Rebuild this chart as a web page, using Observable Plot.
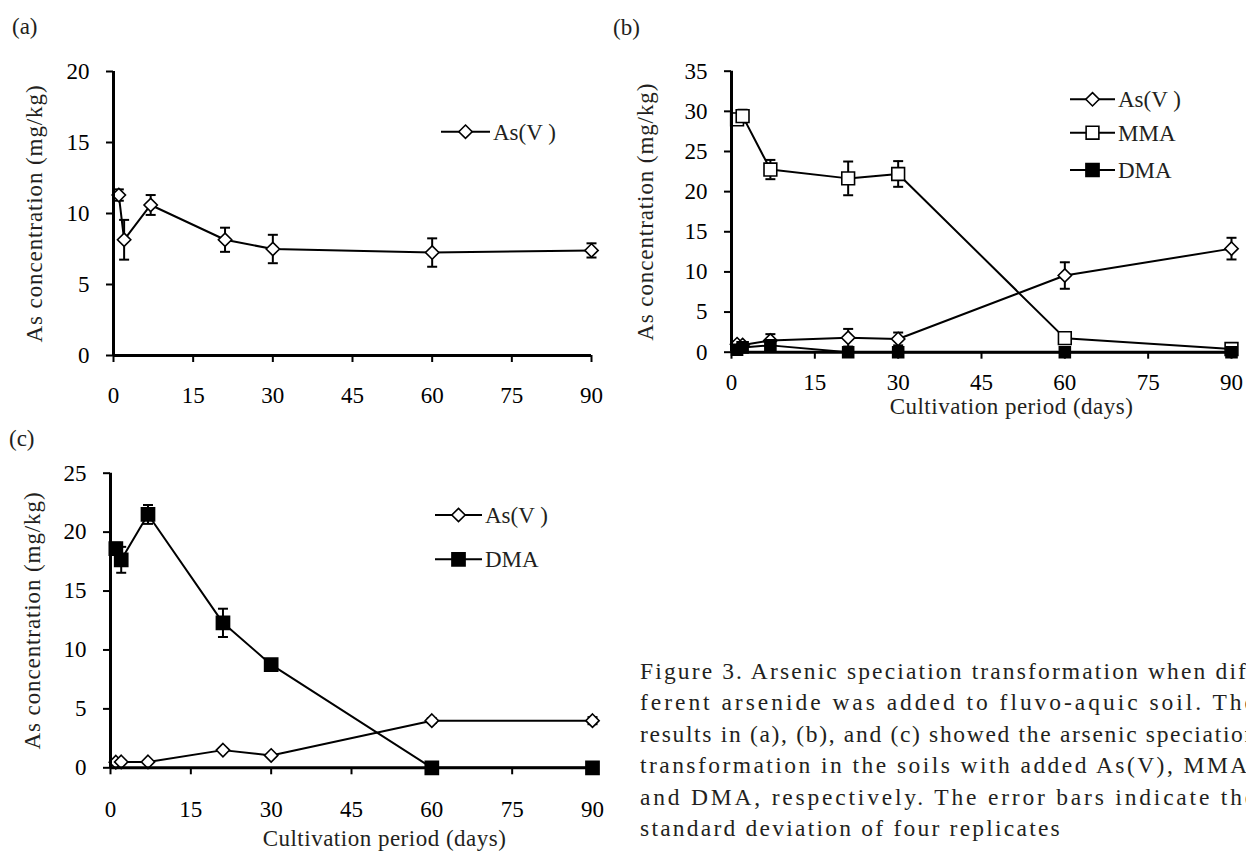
<!DOCTYPE html>
<html><head><meta charset="utf-8">
<script src="https://cdn.jsdelivr.net/npm/d3@7"></script>
<script src="https://cdn.jsdelivr.net/npm/@observablehq/plot@0.6"></script>
<style>
html,body{margin:0;padding:0;background:#fff;overflow:hidden;}
body{width:1246px;height:857px;position:relative;font-family:"Liberation Serif",serif;color:#111;}
.panel{position:absolute;}
.plabel{position:absolute;font-size:23px;line-height:1;color:#231f20;}
.legend{position:absolute;left:0;top:0;}
#caption{position:absolute;left:640px;top:656px;font-size:23.5px;line-height:31.4px;color:#231f20;}
#caption div{white-space:nowrap;}
</style></head><body>
<div class="plabel" style="left:12px;top:15px">(a)</div>
<div class="plabel" style="left:613px;top:16px">(b)</div>
<div class="plabel" style="left:9px;top:427px">(c)</div>
<div id="pa" class="panel" style="left:0;top:40px"></div>
<div id="pb" class="panel" style="left:600px;top:40px"></div>
<div id="pc" class="panel" style="left:0;top:455px"></div>
<svg class="legend" width="1246" height="857" id="leg"></svg>
<div id="caption"></div>
<script>
// ---- data ----
const days = [1, 2, 7, 21, 30, 60, 90];
const xTicks = [0, 15, 30, 45, 60, 75, 90];
// panel (a): As(V) added
const aAsV    = [11.3, 8.15, 10.6, 8.15, 7.5, 7.25, 7.4];
const aAsVErr = [0.4, 1.4, 0.7, 0.85, 1.0, 1.0, 0.5];
// panel (b): MMA added
const bAsV    = [1.0, 0.9, 1.45, 1.8, 1.65, 9.55, 12.9];
const bAsVErr = [0.3, 0.3, 0.8, 1.1, 0.8, 1.65, 1.35];
const bMMA    = [29.0, 29.4, 22.75, 21.65, 22.2, 1.75, 0.4];
const bMMAErr = [0.7, 0.8, 1.2, 2.1, 1.6, 0.3, 0.2];
const bDMA    = [0.3, 0.6, 0.85, 0, 0, 0, 0];
const bDMAErr = [0.1, 0.2, 0.3, 0, 0, 0, 0];
// panel (c): DMA added
const cAsV    = [0.48, 0.5, 0.5, 1.5, 1.05, 4.0, 4.0];
const cAsVErr = [0.1, 0.1, 0.1, 0.15, 0.1, 0.2, 0.3];
const cDMA    = [18.6, 17.65, 21.5, 12.3, 8.75, 0, 0];
const cDMAErr = [0.5, 1.1, 0.8, 1.2, 0.4, 0.1, 0.1];
const yTitle = "As concentration (mg/kg)";
const xTitle = "Cultivation period (days)";
const captionLines = [
  "Figure 3. Arsenic speciation transformation when dif-",
  "ferent arsenide was added to fluvo-aquic soil. The",
  "results in (a), (b), and (c) showed the arsenic speciation",
  "transformation in the soils with added As(V), MMA,",
  "and DMA, respectively. The error bars indicate the",
  "standard deviation of four replicates"
];

const FONT = "Liberation Serif, serif";
const capSym = {draw(ctx, size){ const r = Math.sqrt(size/Math.PI); ctx.moveTo(-r,0); ctx.lineTo(r,0); }};
const STY = {
  asv: {symbol: "diamond2", r: 6, fill: "white"},
  mma: {symbol: "square", r: 7.2, fill: "white"},
  dma: {symbol: "square", r: 7.4, fill: "black"},
  dmaSmall: {symbol: "square", r: 6.2, fill: "black"}
};

function makePanel(o) {
  const marks = [];
  for (const s of o.series) {
    const rows = days.map((d, i) => ({x: d, y: s.values[i], e: s.err[i]}));
    const eb = rows.filter(r => r.e > 0);
    marks.push(Plot.ruleX(eb, {x: "x", y1: r => r.y - r.e, y2: r => r.y + r.e, stroke: "black", strokeWidth: 2}));
    marks.push(Plot.dot(eb, {x: "x", y: r => r.y + r.e, symbol: capSym, r: 5, stroke: "black", strokeWidth: 2, fill: "none"}));
    marks.push(Plot.dot(eb, {x: "x", y: r => r.y - r.e, symbol: capSym, r: 5, stroke: "black", strokeWidth: 2, fill: "none"}));
  }
  for (const s of o.series) {
    const rows = days.map((d, i) => ({x: d, y: s.values[i]}));
    marks.push(Plot.line(rows, {x: "x", y: "y", stroke: "black", strokeWidth: 2}));
  }
  for (const s of o.series) {
    const rows = days.map((d, i) => ({x: d, y: s.values[i]}));
    marks.push(Plot.dot(rows, {x: "x", y: "y", symbol: s.sty.symbol, r: s.sty.r, fill: s.sty.fill, stroke: "black", strokeWidth: 1.6}));
  }
  marks.push(Plot.axisX({ticks: xTicks, tickSize: 7, tickPadding: o.xPad, strokeWidth: 2, fontSize: 23, fontFamily: FONT, tickFormat: d => String(d), label: null}));
  marks.push(Plot.axisY({ticks: o.yTicks, tickSize: 7, tickPadding: 17, strokeWidth: 2, fontSize: 23, fontFamily: FONT, tickFormat: d => String(d), label: null}));
  marks.push(Plot.ruleY([0], {stroke: "black", strokeWidth: 3}));
  marks.push(Plot.ruleX([0], {stroke: "black", strokeWidth: 3}));
  marks.push(Plot.text([yTitle], {text: d => d, frameAnchor: "left", textAnchor: "middle", rotate: -90, dx: -o.yTitleX, fontSize: 23, fontFamily: FONT, fill: "#231f20"}));
  if (o.xTitle) marks.push(Plot.text([xTitle], {text: d => d, frameAnchor: "bottom", textAnchor: "middle", dy: o.xTitleDy, dx: o.xTitleDx, fontSize: 23, fontFamily: FONT, fill: "#231f20"}));
  const svg = Plot.plot({
    width: o.width, height: o.height,
    marginLeft: o.ml, marginRight: o.mr, marginTop: o.mt, marginBottom: o.mb,
    x: {domain: [0, 90]},
    y: {domain: o.yDomain},
    style: {background: "transparent", color: "black", fontFamily: FONT, overflow: "visible"},
    marks
  });
  d3.select(svg).selectAll("text").each(function() {
    const t = this.textContent;
    if (t === yTitle) this.style.letterSpacing = "0.9px";
    if (t === xTitle) this.style.letterSpacing = "0.5px";
  });
  return svg;
}

document.getElementById("pa").append(makePanel({
  width: 610, height: 390, ml: 113, mr: 19, mt: 31, mb: 75,
  yDomain: [0, 20], yTicks: [0, 5, 10, 15, 20], xPad: 24, yTitleX: 79,
  series: [{values: aAsV, err: aAsVErr, sty: STY.asv}]
}));
document.getElementById("pb").append(makePanel({
  width: 646, height: 400, ml: 131, mr: 15, mt: 30.7, mb: 88.3,
  yDomain: [0, 35], yTicks: [0, 5, 10, 15, 20, 25, 30, 35], xPad: 14, yTitleX: 86,
  xTitle: true, xTitleDy: 62, xTitleDx: 30,
  series: [
    {values: bAsV, err: bAsVErr, sty: STY.asv},
    {values: bMMA, err: bMMAErr, sty: STY.mma},
    {values: bDMA, err: bDMAErr, sty: STY.dmaSmall}
  ]
}));
document.getElementById("pc").append(makePanel({
  width: 620, height: 402, ml: 110, mr: 28, mt: 17.7, mb: 89.7,
  yDomain: [0, 25], yTicks: [0, 5, 10, 15, 20, 25], xPad: 26, yTitleX: 78,
  xTitle: true, xTitleDy: 78, xTitleDx: 33,
  series: [
    {values: cAsV, err: cAsVErr, sty: STY.asv},
    {values: cDMA, err: cDMAErr, sty: STY.dma}
  ]
}));

// ---- legends ----
const legends = [
  {x1: 441, x2: 490, y: 131.7, label: "As(V )", sty: STY.asv},
  {x1: 1070, x2: 1115, y: 99.3, label: "As(V )", sty: STY.asv},
  {x1: 1070, x2: 1115, y: 132.7, label: "MMA", sty: STY.mma},
  {x1: 1070, x2: 1115, y: 170, label: "DMA", sty: STY.dma},
  {x1: 435, x2: 482, y: 515, label: "As(V )", sty: STY.asv},
  {x1: 435, x2: 482, y: 559.3, label: "DMA", sty: STY.dma}
];
const leg = d3.select("#leg");
const symMap = {diamond2: d3.symbolDiamond2, square: d3.symbolSquare};
for (const L of legends) {
  leg.append("line").attr("x1", L.x1).attr("x2", L.x2).attr("y1", L.y).attr("y2", L.y).attr("stroke", "black").attr("stroke-width", 2);
  leg.append("path").attr("d", d3.symbol(symMap[L.sty.symbol], L.sty.r * L.sty.r * Math.PI)())
    .attr("transform", `translate(${(L.x1 + L.x2) / 2},${L.y})`)
    .attr("fill", L.sty.fill).attr("stroke", "black").attr("stroke-width", 1.6);
  leg.append("text").attr("x", L.x2 + 3).attr("y", L.y).attr("dy", "0.35em")
    .attr("font-family", FONT).attr("font-size", 23).attr("fill", "#231f20").text(L.label);
}

// ---- caption ----
const cap = document.getElementById("caption");
const W = 618, lastW = 422;
captionLines.forEach((t, i) => {
  const div = document.createElement("div");
  const span = document.createElement("span");
  span.textContent = t;
  div.append(span);
  cap.append(div);
  const target = i < captionLines.length - 1 ? W : lastW;
  const w = span.getBoundingClientRect().width;
  span.style.letterSpacing = Math.max(0, (target - w) / t.length) + "px";
});
</script>
</body></html>
